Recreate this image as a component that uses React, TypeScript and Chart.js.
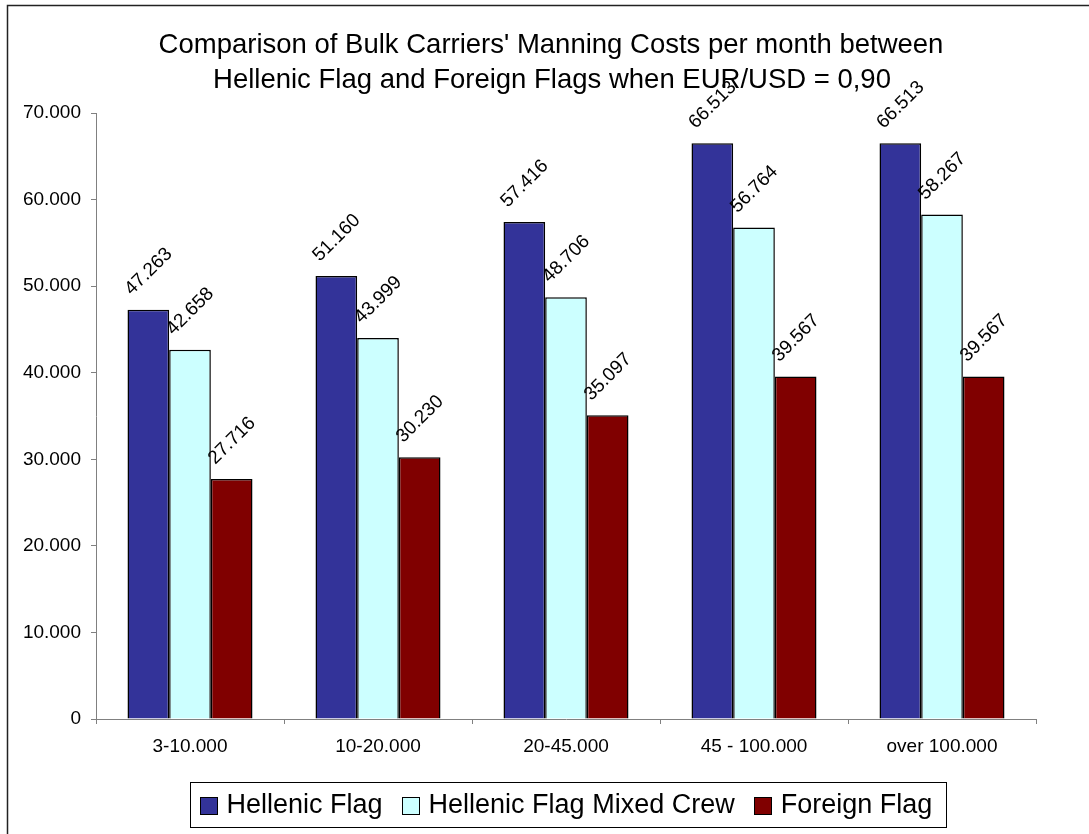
import React, { useEffect, useRef } from "react";
import { Chart, registerables } from "chart.js";

Chart.register(...registerables);

const categories = ["3-10.000", "10-20.000", "20-45.000", "45 - 100.000", "over 100.000"];
const hellenicFlag = [47263, 51160, 57416, 66513, 66513];
const hellenicMixedCrew = [42658, 43999, 48706, 56764, 58267];
const foreignFlag = [27716, 30230, 35097, 39567, 39567];
const seriesNames = ["Hellenic Flag", "Hellenic Flag Mixed Crew", "Foreign Flag"];
const seriesColors = ["#333399", "#CCFFFF", "#800000"];
const titleLines = [
  "Comparison of Bulk Carriers' Manning Costs per month between",
  "Hellenic Flag and Foreign Flags when EUR/USD = 0,90",
];
const yMax = 70000;
const yStep = 10000;

const FONT = "'Liberation Sans', Arial, sans-serif";

function fmt(v: number): string {
  return Math.round(v).toString().replace(/\B(?=(\d{3})+(?!\d))/g, ".");
}

const framePlugin = {
  id: "frameTitle",
  beforeDraw(chart: any) {
    const ctx = chart.ctx;
    ctx.save();
    ctx.fillStyle = "#ffffff";
    ctx.fillRect(0, 0, chart.width, chart.height);
    ctx.strokeStyle = "#222222";
    ctx.lineWidth = 1.5;
    ctx.strokeRect(7.5, 5.5, 1300, 1000);
    ctx.fillStyle = "#000000";
    ctx.font = `27.5px ${FONT}`;
    ctx.textAlign = "center";
    ctx.textBaseline = "alphabetic";
    ctx.fillText(titleLines[0], 551, 53);
    ctx.fillText(titleLines[1], 552, 88);
    ctx.restore();
  },
};

const labelsPlugin = {
  id: "rotLabels",
  afterDatasetsDraw(chart: any) {
    const ctx = chart.ctx;
    ctx.save();
    ctx.fillStyle = "#000000";
    ctx.font = `19px ${FONT}`;
    ctx.textAlign = "left";
    ctx.textBaseline = "alphabetic";
    chart.data.datasets.forEach((ds: any, di: number) => {
      const meta = chart.getDatasetMeta(di);
      meta.data.forEach((el: any, i: number) => {
        const x0 = el.x - 16.5;
        const y0 = el.y - 14;
        ctx.save();
        ctx.translate(x0, y0);
        ctx.rotate(-Math.PI / 4);
        ctx.fillText(fmt(ds.data[i]), 0, 0);
        ctx.restore();
      });
    });
    ctx.restore();
  },
};

const legendPlugin = {
  id: "boxLegend",
  afterDraw(chart: any) {
    const ctx = chart.ctx;
    ctx.save();
    ctx.font = `27px ${FONT}`;
    const marker = 17;
    const gapMarkerText = 10;
    const gapItems = 19;
    const widths = seriesNames.map((n) => ctx.measureText(n).width);
    let content = 0;
    widths.forEach((w, i) => {
      content += marker + gapMarkerText + w + (i < widths.length - 1 ? gapItems : 0);
    });
    const padL = 9;
    const padR = 14;
    const boxW = Math.round(content + padL + padR);
    const boxL = 190.5;
    const boxT = 782.5;
    const boxH = 45;
    ctx.fillStyle = "#ffffff";
    ctx.fillRect(boxL, boxT, boxW, boxH);
    ctx.strokeStyle = "#000000";
    ctx.lineWidth = 1;
    ctx.strokeRect(boxL, boxT, boxW, boxH);
    let x = boxL + padL;
    ctx.textAlign = "left";
    ctx.textBaseline = "alphabetic";
    seriesNames.forEach((n, i) => {
      ctx.fillStyle = seriesColors[i];
      ctx.fillRect(Math.round(x) + 0.5, 797.5, marker, marker);
      ctx.strokeStyle = "#000000";
      ctx.strokeRect(Math.round(x) + 0.5, 797.5, marker, marker);
      x += marker + gapMarkerText;
      ctx.fillStyle = "#000000";
      ctx.fillText(n, x, 813);
      x += widths[i] + gapItems;
    });
    ctx.restore();
  },
};

export default function App() {
  const canvasRef = useRef<HTMLCanvasElement | null>(null);

  useEffect(() => {
    if (!canvasRef.current) return;
    const seriesData = [hellenicFlag, hellenicMixedCrew, foreignFlag];
    const chart = new Chart(canvasRef.current, {
      type: "bar",
      data: {
        labels: categories,
        datasets: seriesNames.map((name, i) => ({
          label: name,
          data: seriesData[i],
          backgroundColor: seriesColors[i],
          borderColor: "#000000",
          borderWidth: 1.5,
          categoryPercentage: 0.665,
          barPercentage: 1.0,
        })),
      },
      options: {
        responsive: false,
        animation: false,
        devicePixelRatio: 1,
        layout: {
          padding: { left: 0, top: 113, right: 53, bottom: 75 },
        },
        plugins: {
          legend: { display: false },
          title: { display: false },
          tooltip: { enabled: false },
        },
        scales: {
          x: {
            grid: {
              display: true,
              drawOnChartArea: false,
              drawTicks: true,
              tickLength: 5,
              color: "#808080",
              offset: true,
            },
            border: { display: true, color: "#808080", width: 1 },
            ticks: {
              color: "#000000",
              font: { family: FONT, size: 19 },
              padding: 11,
              maxRotation: 0,
              autoSkip: false,
            },
            afterFit: (scale: any) => {
              scale.height = 40;
            },
          },
          y: {
            min: 0,
            max: yMax,
            grid: {
              display: true,
              drawOnChartArea: false,
              drawTicks: true,
              tickLength: 5,
              color: "#808080",
            },
            border: { display: true, color: "#808080", width: 1 },
            ticks: {
              stepSize: yStep,
              color: "#000000",
              font: { family: FONT, size: 19 },
              padding: 10,
              callback: (v: any) => fmt(Number(v)),
            },
            afterFit: (scale: any) => {
              scale.width = 96;
            },
          },
        },
      },
      plugins: [framePlugin, labelsPlugin, legendPlugin],
    });
    return () => chart.destroy();
  }, []);

  return (
    <div style={{ position: "absolute", left: 0, top: 0, width: 1089, height: 834 }}>
      <canvas ref={canvasRef} width={1089} height={834} style={{ display: "block" }} />
    </div>
  );
}
